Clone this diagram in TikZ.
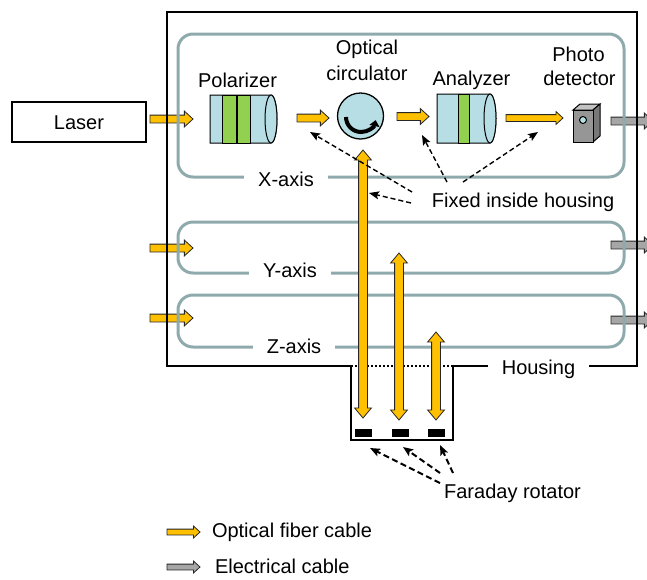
\documentclass[tikz,border=0pt]{standalone}
\usepackage{fontspec}
\setmainfont{Liberation Sans}
\usetikzlibrary{shapes.arrows, arrows.meta}

\definecolor{fiber}{RGB}{255,192,0}
\definecolor{cablegray}{RGB}{166,166,166}
\definecolor{axisgray}{RGB}{143,170,172}
\definecolor{lensblue}{RGB}{183,222,228}
\definecolor{lensgreen}{RGB}{146,208,80}
\definecolor{pdfront}{RGB}{150,150,150}
\definecolor{pdtop}{RGB}{195,195,195}
\definecolor{pdside}{RGB}{120,120,120}

\tikzset{
  every node/.style={font=\fontsize{20}{24}\selectfont, inner sep=0pt, outer sep=0pt},
  lbl/.style={anchor=base},
  axisbox/.style={draw=axisgray, line width=3pt, rounded corners=15pt},
  gaplabel/.style={anchor=base, fill=white, inner xsep=14pt, inner ysep=3pt},
  housingline/.style={line width=2.2pt},
  fibre/.style={single arrow, draw=black!85, fill=fiber, line width=0.8pt,
    minimum width=0pt, inner ysep=3.5pt, inner xsep=0pt,
    single arrow head extend=4pt, single arrow tip angle=85, anchor=tail},
  thinfibre/.style={fibre, inner ysep=3pt, single arrow head extend=3pt},
  elec/.style={fibre, fill=cablegray, inner ysep=3.5pt, single arrow head extend=4pt},
  legendarrow/.style={inner ysep=2.5pt, single arrow head extend=3pt},
  fibrepair/.style={double arrow, draw=black!85, fill=fiber, line width=0.8pt,
    minimum width=0pt, inner ysep=4pt, inner xsep=0pt,
    double arrow head extend=4pt, double arrow tip angle=80, rotate=90},
  lens/.style={draw=black, line width=1pt, fill=lensblue},
  band/.style={draw=black, line width=1pt, fill=lensgreen},
  note/.style={dash pattern=on 5pt off 3pt, line width=1.4pt,
    -{Stealth[length=10pt,width=8pt,inset=2pt]}},
  faranote/.style={note, line width=2pt, dash pattern=on 6pt off 3.5pt},
  magnet/.style={fill=black},
}

\begin{document}
\begin{tikzpicture}[x=1pt, y=-1pt]
\useasboundingbox (0,0) rectangle (647,579);
\clip (0,0) rectangle (647,579);

% ---- source ----
\node[draw, line width=2pt, minimum width=134pt, minimum height=40pt] (laser) at (79,122) {};
\node[lbl] (laserlbl) at (79,129) {Laser};

% ---- fibre inputs and electrical outputs of the three axes ----
\node[fibre, minimum height=43pt] (inx) at (150,119) {};
\node[fibre, minimum height=43pt] (iny) at (150,248) {};
\node[fibre, minimum height=43pt] (inz) at (150,318) {};
\node[elec, minimum height=42pt] (outx) at (611,121) {};
\node[elec, minimum height=42pt] (outy) at (611,245) {};
\node[elec, minimum height=42pt] (outz) at (611,320) {};

% ---- sensor channels ----
\draw[axisbox] (178,34) rectangle (624,177);
\draw[axisbox] (178,222) rectangle (624,273);
\draw[axisbox] (178,295) rectangle (624,347);
\node[gaplabel] (xlbl) at (286,186) {X-axis};
\node[gaplabel] (ylbl) at (290,277) {Y-axis};
\node[gaplabel] (zlbl) at (294,353) {Z-axis};

% ---- housing with the rotator pocket ----
\draw[housingline] (351,366) -- (167,366) -- (167,12) -- (637,12) -- (637,366) -- (453,366);
\draw[housingline] (351,366) -- (351,440) -- (453,440) -- (453,366);
\draw[line width=2pt, dotted] (351,366) -- (453,366);
\node[gaplabel] (hlbl) at (538.5,374) {Housing};

% ---- polarizer ----
\draw[lens] (271,95) -- (210,95) -- (210,143) -- (271,143)
  arc[start angle=90, end angle=-90, x radius=6, y radius=24] -- cycle;
\draw[band] (222,95) rectangle (236,143);
\draw[band] (237,95) rectangle (250,143);
\draw[lens] (271,119) ellipse [x radius=6, y radius=24];
\node[lbl] (pollbl) at (237.5,87) {Polarizer};

% ---- optical circulator ----
\node[circle, draw, line width=1.3pt, fill=lensblue, minimum size=46pt] (circ) at (360.5,116) {};
\draw[line width=4pt, -{Triangle[length=6pt,width=10pt]}]
  (346,117) arc[start angle=180, end angle=12, radius=15];
\node[lbl] (circlbl1) at (367,54) {Optical};
\node[lbl] (circlbl2) at (367,80) {circulator};

% ---- analyzer ----
\draw[lens] (490,94) -- (437,94) -- (437,143) -- (490,143)
  arc[start angle=90, end angle=-90, x radius=6, y radius=24.5] -- cycle;
\draw[band] (458,94) rectangle (469,143);
\draw[lens] (490,118.5) ellipse [x radius=6, y radius=24.5];
\node[lbl] (analbl) at (471.5,85) {Analyzer};

% ---- photo detector ----
\draw[line width=1pt, fill=pdtop] (573,110) -- (580,104) -- (600,104) -- (593,110) -- cycle;
\draw[line width=1pt, fill=pdside] (593,110) -- (600,104) -- (600,136) -- (593,142) -- cycle;
\draw[line width=1pt, fill=pdfront] (573,110) rectangle (593,142);
\draw[line width=1pt, fill=lensblue] (583,120) circle [radius=3.5];
\node[lbl] (pdlbl1) at (578.5,61) {Photo};
\node[lbl] (pdlbl2) at (579.5,85) {detector};

% ---- beam path inside the X channel ----
\node[fibre, minimum height=32pt] (b1) at (297,118) {};
\node[fibre, minimum height=32pt] (b2) at (397,116.5) {};
\node[thinfibre, minimum height=57pt] (b3) at (506,118) {};

% ---- fibres down to the Faraday rotators ----
\node[fibrepair, minimum height=268pt] (f1) at (363,284) {};
\node[fibrepair, minimum height=167pt] (f2) at (399,336.5) {};
\node[fibrepair, minimum height=88pt] (f3) at (436,376) {};

% ---- Faraday rotators ----
\fill[magnet] (355,428.5) rectangle (372,436.5);
\fill[magnet] (392,428.5) rectangle (409,436.5);
\fill[magnet] (428,428.5) rectangle (445,436.5);

% ---- annotations ----
\node[lbl] (fixed) at (523,207) {Fixed inside housing};
\coordinate (fx1) at (411,203);
\coordinate (fx2) at (412,192);
\coordinate (fx3) at (447,182);
\coordinate (fx4) at (463,182);
\coordinate (fxt1) at (369,193);
\coordinate (fxt2) at (310,132);
\coordinate (fxt3) at (422,135);
\coordinate (fxt4) at (538,132);
\draw[note] (fx1) -- (fxt1);
\draw[note] (fx2) -- (fxt2);
\draw[note] (fx3) -- (fxt3);
\draw[note] (fx4) -- (fxt4);

\node[lbl] (frlbl) at (512.5,498) {Faraday rotator};
\coordinate (fr1) at (440,483);
\coordinate (fr2) at (440,473);
\coordinate (fr3) at (453,473);
\coordinate (frt1) at (370,448);
\coordinate (frt2) at (403,447);
\coordinate (frt3) at (440,445);
\draw[faranote] (fr1) -- (frt1);
\draw[faranote] (fr2) -- (frt2);
\draw[faranote] (fr3) -- (frt3);

% ---- legend ----
\node[fibre, legendarrow, minimum height=33pt] (legf) at (167,532) {};
\node[anchor=base west] (legftext) at (212,537) {Optical fiber cable};
\node[elec, legendarrow, minimum height=33pt] (lege) at (167,567) {};
\node[anchor=base west] (legetext) at (215,573) {Electrical cable};
\end{tikzpicture}
\end{document}
